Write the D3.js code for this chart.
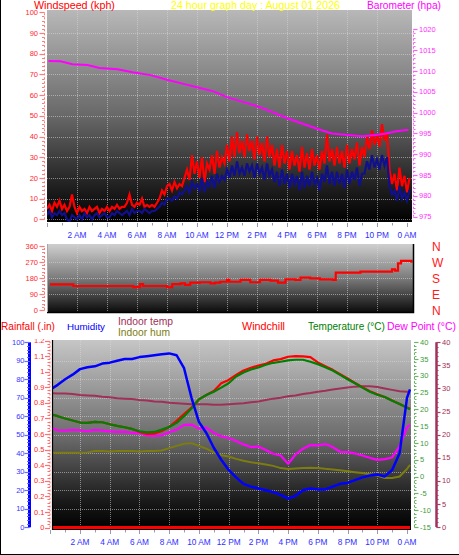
<!DOCTYPE html>
<html><head><meta charset="utf-8">
<script src="https://cdn.jsdelivr.net/npm/d3@7"></script>
<style>
body{margin:0;background:#fff;}
svg{display:block;font-family:"Liberation Sans",Arial,sans-serif;}
</style></head><body>
<svg id="c" width="459" height="555"></svg>
<script>
// ---------- DATA ----------
const timeLabels = ["2 AM","4 AM","6 AM","8 AM","10 AM","12 PM","2 PM","4 PM","6 PM","8 PM","10 PM","0 AM"];
const timeLabelHours = [2,4,6,8,10,12,14,16,18,20,22,24];

const windTicks = [0,10,20,30,40,50,60,70,80,90,100];
const baroTicks = [975,980,985,990,995,1000,1005,1010,1015,1020];
const dirTicks = [0,90,180,270,360];
const compass = ["N","W","S","E","N"];
const compassDeg = [360,270,180,90,0];
const humTicks = [0,10,20,30,40,50,60,70,80,90,100];
const rainTicks = [0,0.1,0.2,0.3,0.4,0.5,0.6,0.7,0.8,0.9,1,1.1,1.2];
const tempTicks = [-15,-10,-5,0,5,10,15,20,25,30,35,40];
const inTempTicks = [0,5,10,15,20,25,30,35,40];

// wind speed (kph), one value every 10 minutes from midnight
const windGust = [5,7,4,8,6,9,5, 7,4,6,12,6,3, 6,4,5,3,6,4, 5,6,3,5,4,6, 4,6,5,7,5,6,
  6,8,12,7,6,8, 7,10,6,7,6,7, 6,8,10,14,12,16, 17,14,18,15,17,16, 20,24,19,31,22,28,
  20,30,18,27,24,31, 22,33,25,30,27,36, 28,40,30,42,32,38, 30,41,33,38,29,40,
  31,37,28,40,30,36, 26,34,25,36,27,33, 24,33,26,31,23,35, 25,32,24,34,26,31,
  24,33,27,41,28,34, 26,35,27,33,25,36, 27,34,29,37,26,35, 30,40,34,43,36,41,
  35,46,38,42,24,17, 22,14,25,16,21,13, 20];
const windAvg = [2,4,1,3,2,4,2, 3,0,-1,2,1,0, 2,0,3,1,2,0, 2,3,1,2,3,1, 1,3,2,4,3,2,
  3,4,2,5,3,4, 4,3,5,4,3,4, 4,5,6,8,7,10, 10,9,11,10,13,12, 14,16,13,18,15,17,
  14,20,13,18,16,21, 15,22,18,21,19,24, 20,26,21,28,22,25, 21,27,23,26,20,27,
  22,25,19,27,21,24, 18,23,16,24,17,22, 15,22,17,21,14,23, 15,21,16,23,17,20,
  14,22,18,26,17,23, 16,23,17,22,15,24, 17,23,19,25,16,22, 22,28,24,31,25,29,
  24,31,26,30,16,12, 14,9,16,10,13,9, 14];

const baroHours = [0.1,0.9,1.7,2.7,3.5,4.7,5.7,6.9,8.0,9.1,10.2,11.1,12.0,13.5,14.2,16.2,18.1,19.0,19.9,21.0,21.9,22.6,23.3,24.1];
const baroVals  = [1012.4,1012.3,1011.6,1011.4,1010.7,1010.4,1009.7,1009.0,1007.9,1006.9,1005.9,1005.1,1003.7,1002.1,1001.3,998.4,996.0,995.0,994.7,994.3,994.6,995.0,995.5,995.9];

const dirHours = [0.2,1.7,1.75,5.6,5.75,6.2,6.4,7.85,8.0,8.35,8.9,9.2,9.55,10.2,10.9,11.2,11.55,12.0,12.15,12.9,13.55,14.2,14.9,15.4,15.9,16.55,16.9,17.55,18.2,19.05,19.25,20.2,20.9,22.2,22.8,23.0,23.2,23.4,23.6,23.9,24.3];
const dirVals  = [144,144,135,135,129,146,135,135,128,145,150,141,154,156,150,154,159,169,159,169,156,169,165,154,172,169,182,178,172,169,210,210,216,216,216,229,221,262,276,276,266];

const T = [0,0.5,1,1.5,2,2.5,3,3.5,4,4.5,5,5.5,6,6.5,7,7.5,8,8.5,9,9.5,10,10.5,11,11.5,12,12.5,13,13.5,14,14.5,15,15.5,16,16.5,17,17.5,18,18.5,19,19.5,20,20.5,21,21.5,22,22.5,23,23.5,24,24.2];
const humidity = [74.5,77,80,82.5,85.5,86.5,87,88.5,89,90,91,91,92,92.5,93,93.5,94,93,86,70,57,51,43,36.5,31,27,23.5,22,21,20,19,17.5,15.5,17,20,21,20.5,20.5,22,23.5,24,25.5,27,28,28.5,27.5,31,40,70,74.5];
const temperature = [18.6,18.0,17.3,16.7,16.1,16.0,16.3,16.2,15.6,15.1,14.7,14.2,13.5,13.2,13.3,14.0,14.8,16.0,18.0,20.3,23.0,24.3,25.3,26.5,27.8,29.8,31.0,31.9,32.5,33.3,33.9,34.2,34.6,34.8,34.8,34.2,33.5,32.6,31.6,30.3,29.0,27.8,26.5,25.3,24.4,23.7,22.6,21.6,20.5,20.1];
const windchill = [18.6,18.0,17.3,16.7,16.1,16.0,16.3,16.2,15.6,15.1,14.7,14.2,13.3,12.7,12.8,13.6,14.8,16.6,18.6,20.6,23.0,24.3,25.5,27.8,28.8,30.3,31.6,32.4,33.1,33.6,34.6,35.0,35.7,35.9,35.8,35.6,34.0,32.9,31.8,30.5,29.2,27.9,26.6,25.4,24.5,23.7,22.7,21.6,20.6,20.2];
const dewPoint = [14.6,13.8,13.7,13.9,13.8,13.5,13.9,13.7,13.5,13.3,13.4,13.0,12.9,12.3,12.1,12.3,13.2,14.0,15.4,15.5,14.3,14.6,13.0,12.0,11.5,10.6,9.6,8.8,9.0,7.9,6.8,6.3,3.8,6.6,8.3,9.4,9.3,9.7,8.8,7.4,7.3,6.9,6.3,5.6,5.0,5.2,5.7,9.0,14.7,15.4];
const indoorTemp = [29.0,28.9,28.9,28.8,28.6,28.5,28.4,28.2,28.1,27.9,27.8,27.7,27.5,27.4,27.2,27.1,26.9,26.8,26.7,26.6,26.6,26.6,26.5,26.5,26.6,26.7,26.8,27.0,27.2,27.5,27.8,28.0,28.3,28.5,28.8,29.0,29.3,29.5,29.8,30.0,30.2,30.4,30.5,30.5,30.3,30.0,29.7,29.4,29.3,29.3];
const indoorHum = [40.3,40.3,40.3,40.3,40.3,40.5,41.2,41.2,41.0,41.2,41.2,41.2,41.0,41.2,41.2,41.5,42.8,44.0,45.2,45.5,44.0,42.5,40.5,39.0,38.3,37.0,36.0,35.2,34.6,34.0,33.2,32.0,31.5,31.8,32.0,32.2,32.0,31.6,31.3,30.8,30.3,29.8,29.3,28.7,28.0,26.6,26.6,27.5,31.5,33.7];
const rainHours = [0,24.2];
const rainfall = [0,0];

// ---------- DRAW ----------
const svg = d3.select("#c");
const defs = svg.append("defs");
function grad(id, stops){
  const g = defs.append("linearGradient").attr("id",id).attr("x1",0).attr("y1",0).attr("x2",0).attr("y2",1);
  stops.forEach(([o,c])=>g.append("stop").attr("offset",o).attr("stop-color",c));
}
grad("gTop",[[0,"#b8b8b8"],[0.5,"#686868"],[0.85,"#1c1c1c"],[1,"#000"]]);
grad("gMid",[[0,"#cfcfcf"],[0.5,"#7c7c7c"],[1,"#0c0c0c"]]);
grad("gLow",[[0,"#c6c6c6"],[0.5,"#6e6e6e"],[0.85,"#1a1a1a"],[1,"#000"]]);
function clip(id,x,y,w,h){defs.append("clipPath").attr("id",id).append("rect").attr("x",x).attr("y",y).attr("width",w).attr("height",h);}

// scales
const xTop = d3.scaleLinear().domain([0,24]).range([47,407]);
const yWind = d3.scaleLinear().domain([0,100]).range([219.3,12.3]);
const yBaro = d3.scaleLinear().domain([975,1020]).range([216.7,29.3]);
const yDir = d3.scaleLinear().domain([0,360]).range([310,246]);
const xLow = d3.scaleLinear().domain([0,24]).range([50.3,407]);
const yHum = d3.scaleLinear().domain([0,100]).range([527.3,342.3]);
const yRain = d3.scaleLinear().domain([0,1.2]).range([527.5,340.5]);
const yTemp = d3.scaleLinear().domain([-15,40]).range([527,342.3]);
const yIn = d3.scaleLinear().domain([0,40]).range([527,342.3]);

const P1 = {x:47,y:10,w:365,h:212};
const P2 = {x:47,y:244,w:366,h:68};
const P3 = {x:52,y:340,w:359,h:189};

// backgrounds
svg.append("rect").attr("x",P1.x).attr("y",P1.y).attr("width",P1.w).attr("height",P1.h).attr("fill","url(#gTop)");
svg.append("rect").attr("x",P2.x).attr("y",P2.y).attr("width",P2.w).attr("height",P2.h).attr("fill","url(#gMid)");
svg.append("rect").attr("x",P3.x).attr("y",P3.y).attr("width",P3.w).attr("height",P3.h).attr("fill","url(#gLow)");
clip("c1",P1.x,P1.y,P1.w,P1.h); clip("c2",P2.x,P2.y,P2.w,P2.h); clip("c3",P3.x,P3.y,P3.w,P3.h);

const gridStyle = s => s.attr("stroke","#d8d8d8").attr("stroke-opacity",0.55).attr("stroke-dasharray","1,1").attr("stroke-width",1);
function grid(P, xs, xsc, ys, ysc){
  const g = svg.append("g");
  g.selectAll(null).data(xs).enter().append("line")
    .attr("x1",d=>Math.round(xsc(d))+0.5).attr("x2",d=>Math.round(xsc(d))+0.5)
    .attr("y1",P.y).attr("y2",P.y+P.h).call(gridStyle);
  g.selectAll(null).data(ys).enter().append("line")
    .attr("y1",d=>Math.round(ysc(d))+0.5).attr("y2",d=>Math.round(ysc(d))+0.5)
    .attr("x1",P.x).attr("x2",P.x+P.w).call(gridStyle);
}
grid(P1, timeLabelHours.slice(0,11), xTop, windTicks.slice(0,10), yWind);
grid(P2, timeLabelHours.slice(0,11), xTop, [90,180,270], yDir);
grid(P3, timeLabelHours.slice(0,11), xLow, humTicks.slice(1,10), yHum);

// vertical axis helper
function vAxis(opt){
  const g = svg.append("g");
  const [d0,d1] = opt.scale.domain();
  const minors = d3.range(d0, d1+opt.minor/2, opt.minor);
  const dir = opt.side==="left" ? -1 : 1;
  if(opt.line){
    g.append("line").attr("x1",opt.x).attr("x2",opt.x)
      .attr("y1",opt.scale(d0)).attr("y2",opt.scale(d1))
      .attr("stroke",opt.lineColor||opt.tickColor).attr("stroke-width",opt.line)
      .attr("stroke-dasharray",opt.dash||null);
  }
  g.selectAll(null).data(minors).enter().append("line")
    .attr("x1",opt.x).attr("x2",d=>opt.x+dir*opt.minLen)
    .attr("y1",d=>Math.round(opt.scale(d))+0.5).attr("y2",d=>Math.round(opt.scale(d))+0.5)
    .attr("stroke",opt.tickColor).attr("stroke-width",1);
  g.selectAll(null).data(opt.ticks).enter().append("line")
    .attr("x1",opt.x).attr("x2",d=>opt.x+dir*opt.majLen)
    .attr("y1",d=>Math.round(opt.scale(d))+0.5).attr("y2",d=>Math.round(opt.scale(d))+0.5)
    .attr("stroke",opt.tickColor).attr("stroke-width",1.2);
  const lg = g.append("g");
  if(opt.clipTop!==undefined){
    const id="lc"+Math.round(opt.x);
    clip(id,0,opt.clipTop,459,600); lg.attr("clip-path",`url(#${id})`);
  }
  lg.selectAll(null).data(opt.ticks).enter().append("text")
    .attr("x",opt.labelX).attr("y",d=>opt.scale(d)+2.6)
    .attr("text-anchor",opt.side==="left"?"end":"start")
    .attr("font-size",opt.fs||7.5).attr("fill",opt.labelColor)
    .text(opt.fmt||(d=>d));
}
vAxis({scale:yWind,x:44.5,side:"left",ticks:windTicks,minor:2,minLen:2.5,majLen:5,tickColor:"#ff7a7a",line:1,dash:"2,2",labelX:38,labelColor:"#ff2a2a"});
vAxis({scale:yBaro,x:413.5,side:"right",ticks:baroTicks,minor:1,minLen:2,majLen:4,tickColor:"#ff5cff",line:1,dash:"2,2",labelX:419,labelColor:"#ff30ff"});
vAxis({scale:yDir,x:44.5,side:"left",ticks:dirTicks,minor:18,minLen:2.5,majLen:5,tickColor:"#ff7a7a",line:1,dash:"2,2",labelX:38,labelColor:"#ff2a2a"});
vAxis({scale:yHum,x:29.5,side:"left",ticks:humTicks,minor:2,minLen:2.5,majLen:5,tickColor:"#6a6aff",line:3,lineColor:"#0000ff",labelX:24.5,labelColor:"#3535ff"});
vAxis({scale:yRain,x:50,side:"left",ticks:rainTicks,minor:0.02,minLen:2.5,majLen:5,tickColor:"#ff7070",line:1,dash:"2,2",labelX:44.5,labelColor:"#ff2a2a",fmt:d=>(+d.toFixed(1)).toString(),clipTop:339});
vAxis({scale:yTemp,x:414.5,side:"right",ticks:tempTicks,minor:1,minLen:2,majLen:4,tickColor:"#6ab46a",line:1,dash:"2,2",labelX:420,labelColor:"#3c9a3c"});
vAxis({scale:yIn,x:436.5,side:"right",ticks:inTempTicks,minor:1,minLen:2,majLen:4,tickColor:"#a8406a",line:2.5,lineColor:"#a03058",labelX:442,labelColor:"#a03058"});

// time axes
function hAxis(xsc, yTick, yLab){
  const g = svg.append("g");
  g.selectAll(null).data(d3.range(0,25,1)).enter().append("line")
    .attr("x1",d=>Math.round(xsc(d))+0.5).attr("x2",d=>Math.round(xsc(d))+0.5)
    .attr("y1",yTick).attr("y2",d=>yTick+(d%2===0?4:2.5)).attr("stroke","#9a9ab8").attr("stroke-width",1);
  g.selectAll(null).data(timeLabels).enter().append("text")
    .attr("x",(d,i)=>xsc(timeLabelHours[i])).attr("y",yLab)
    .attr("text-anchor","middle").attr("font-size",8.3).attr("fill","#2f2fff").text(d=>d);
}
hAxis(xTop, 223, 238.3);
hAxis(xLow, 530, 544.5);

// ---- top chart series ----
const gTop = svg.append("g").attr("clip-path","url(#c1)");
const windHours = windGust.map((_,i)=>i/6);
const lineTop = ys => d3.line().x(d=>xTop(d[0])).y(d=>ys(d[1]));
gTop.append("path").datum(d3.zip(windHours,windGust)).attr("d",lineTop(yWind)).attr("fill","none").attr("stroke","#ff0000").attr("stroke-width",2.2).attr("stroke-linejoin","miter");
gTop.append("path").datum(d3.zip(windHours,windAvg)).attr("d",lineTop(yWind)).attr("fill","none").attr("stroke","#10108c").attr("stroke-width",2.2);
gTop.append("path").datum(d3.zip(baroHours,baroVals)).attr("d",lineTop(yBaro)).attr("fill","none").attr("stroke","#ff00ff").attr("stroke-width",2);

// ---- middle chart ----
const gMid = svg.append("g").attr("clip-path","url(#c2)");
gMid.append("path").datum(d3.zip(dirHours,dirVals)).attr("d",d3.line().x(d=>xTop(d[0])).y(d=>yDir(d[1])).curve(d3.curveStepAfter))
  .attr("fill","none").attr("stroke","#ff0000").attr("stroke-width",2.2);
svg.append("path").attr("d",`M${P2.x},${P2.y+P2.h+0.5}H${P2.x+P2.w+0.5}V${P2.y}`).attr("fill","none").attr("stroke","#000").attr("stroke-width",1.5);
svg.append("line").attr("x1",P2.x+0.5).attr("x2",P2.x+0.5).attr("y1",P2.y).attr("y2",P2.y+P2.h).attr("stroke","#a8a8a8");
svg.selectAll(null).data(compass).enter().append("text")
  .attr("x",432).attr("y",(d,i)=>yDir(compassDeg[i])+4.5)
  .attr("font-size",12).attr("fill","#ff1a1a").text(d=>d);

// ---- lower chart ----
const gLow = svg.append("g").attr("clip-path","url(#c3)");
const lineLow = ys => d3.line().x(d=>xLow(d[0])).y(d=>ys(d[1]));
function lowLine(vals, ys, color, w){
  gLow.append("path").datum(d3.zip(T,vals)).attr("d",lineLow(ys)).attr("fill","none").attr("stroke",color).attr("stroke-width",w).attr("stroke-linejoin","round");
}
lowLine(indoorHum, yHum, "#7c7c10", 2);
lowLine(indoorTemp, yIn, "#a03058", 2);
lowLine(dewPoint, yTemp, "#ff00ff", 2.2);
lowLine(windchill, yTemp, "#ff0000", 2.2);
lowLine(temperature, yTemp, "#008000", 2.2);
lowLine(humidity, yHum, "#0000ff", 2.5);
gLow.append("path").datum(d3.zip(rainHours,rainfall)).attr("d",lineLow(yRain)).attr("fill","none").attr("stroke","#ff0000").attr("stroke-width",3);
svg.append("path").attr("d",`M${P3.x+0.5},${P3.y}V${P3.y+P3.h+0.5}H${P3.x+P3.w}`).attr("fill","none").attr("stroke","#000").attr("stroke-width",1.2);

// ---- headers: font size scaled so the natural width fits the target width ----
function hdr(txt,x,y,len,color){
  const t = svg.append("text").attr("x",x).attr("y",y).attr("font-size",11.5).attr("fill",color).text(txt);
  const w = t.node().getComputedTextLength();
  if(w > len){ t.attr("font-size", (11.5*len/w).toFixed(2)); }
}
hdr("Windspeed (kph)",34,8.5,81,"#ff0000");
hdr("24 hour graph day : August 01 2026",171,8.5,169,"#ffff00");
hdr("Barometer (hpa)",367,8.5,74,"#ff00ff");
hdr("Rainfall (.in)",1,330,54,"#ff0000");
hdr("Humidity",67,330,38,"#0000ff");
hdr("Indoor temp",118,324.5,55,"#a03058");
hdr("Indoor hum",118,336,52,"#7c7c10");
hdr("Windchill",242,330,43,"#ff0000");
hdr("Temperature (°C)",308,330,77,"#008000");
hdr("Dew Point (°C)",387,330,69,"#ff00ff");

// outer frame
svg.append("line").attr("x1",0.5).attr("x2",0.5).attr("y1",0).attr("y2",555).attr("stroke","#000");
svg.append("line").attr("x1",0).attr("x2",459).attr("y1",554.5).attr("y2",554.5).attr("stroke","#000");
</script></body></html>
